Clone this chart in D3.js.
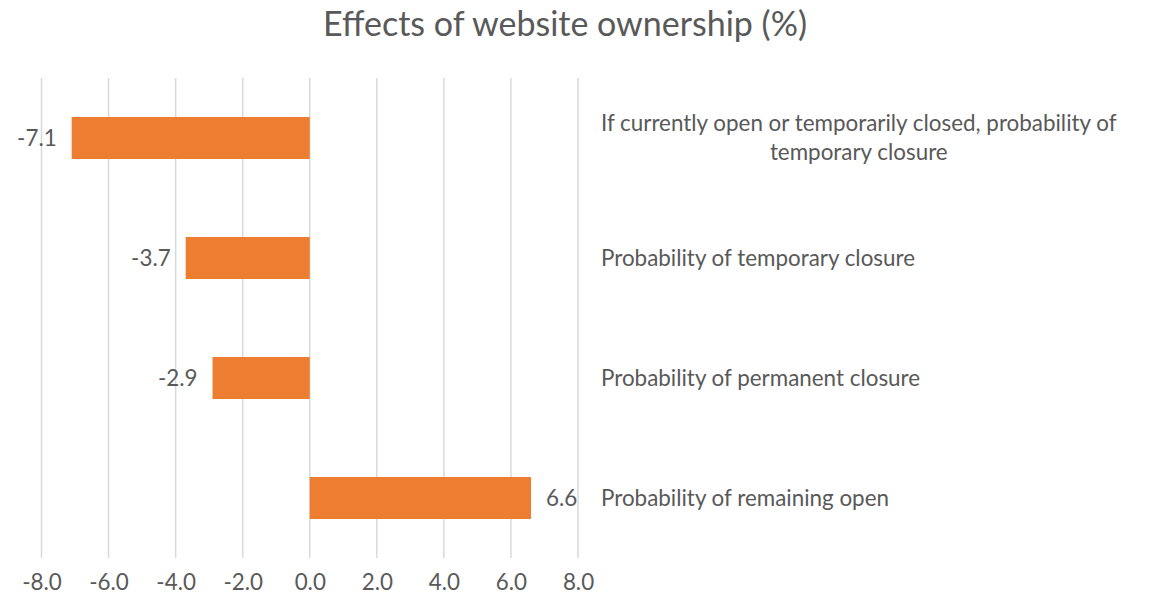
<!DOCTYPE html>
<html>
<head>
<meta charset="utf-8">
<script src="https://cdn.jsdelivr.net/npm/d3@7"></script>
<style>
  html, body { margin: 0; padding: 0; background: #fff; overflow: hidden; }
  svg { display: block; }
  text { font-family: Lato, "Open Sans", sans-serif; fill: #595959; }
</style>
</head>
<body>
<svg id="canvas"></svg>
<script>
const categories = [
    ["If currently open or temporarily closed, probability of", "temporary closure"],
    ["Probability of temporary closure"],
    ["Probability of permanent closure"],
    ["Probability of remaining open"]
];
const values = [-7.1, -3.7, -2.9, 6.6];
const tickValues = [-8, -6, -4, -2, 0, 2, 4, 6, 8];
const title = "Effects of website ownership (%)";

const width = 1150;
const height = 599;
const margin = {top: 78, right: 572, bottom: 41, left: 41.5};
const innerWidth = width - margin.left - margin.right;
const innerHeight = height - margin.top - margin.bottom;
const fontSize = 22.4;

const svg = d3.select("#canvas").attr("width", width).attr("height", height);
const mainGroup = svg.append("g").attr("transform", `translate(${margin.left}, ${margin.top})`);

const xScale = d3.scaleLinear().domain([-8, 8]).range([0, innerWidth]);
const yScale = d3.scaleBand().domain(d3.range(values.length)).range([0, innerHeight]).paddingInner(0.65).paddingOuter(0.325);

// gridlines
mainGroup.selectAll("line.grid")
    .data(tickValues)
    .join("line")
    .classed("grid", true)
    .attr("x1", d => xScale(d))
    .attr("x2", d => xScale(d))
    .attr("y1", 0)
    .attr("y2", innerHeight)
    .attr("stroke", "#d9d9d9")
    .attr("stroke-width", 1.5);

// tick labels
const xAxis = d3.axisBottom(xScale).tickValues(tickValues).tickFormat(d => d.toFixed(1)).tickSize(0).tickPadding(16);
mainGroup.append("g")
    .attr("transform", `translate(0, ${innerHeight})`)
    .call(xAxis)
    .call(g => g.select(".domain").remove())
    .call(g => g.selectAll("text")
        .style("font-family", "Lato, 'Open Sans', sans-serif")
        .style("font-size", fontSize + "px")
        .attr("fill", "#595959"));

// bars
mainGroup.selectAll("rect")
    .data(values)
    .join("rect")
    .attr("x", d => xScale(Math.min(0, d)))
    .attr("y", (d, i) => yScale(i))
    .attr("width", d => Math.abs(xScale(d) - xScale(0)))
    .attr("height", yScale.bandwidth())
    .attr("fill", "#ED7D31");

// data labels
mainGroup.selectAll("text.value")
    .data(values)
    .join("text")
    .classed("value", true)
    .attr("x", d => xScale(d) + (d < 0 ? -15 : 15))
    .attr("y", (d, i) => yScale(i) + yScale.bandwidth() / 2)
    .attr("dy", "0.35em")
    .attr("text-anchor", d => d < 0 ? "end" : "start")
    .style("font-size", fontSize + "px")
    .text(d => d.toFixed(1));

// category labels on the right
const labelX = 601;
const lineHeight = 29;
const labels = svg.append("g");
categories.forEach((lines, i) => {
    const cy = margin.top + yScale(i) + yScale.bandwidth() / 2;
    const t = labels.append("text")
        .style("font-size", fontSize + "px")
        .attr("y", cy - (lines.length - 1) * lineHeight / 2);
    const spans = t.selectAll("tspan")
        .data(lines)
        .join("tspan")
        .attr("x", labelX)
        .attr("dy", (d, j) => j === 0 ? "0.35em" : lineHeight)
        .text(d => d);
    if (lines.length > 1) {
        const w = d3.max(spans.nodes(), n => n.getComputedTextLength());
        t.attr("text-anchor", "middle");
        spans.attr("x", labelX + w / 2);
    }
});

// title
svg.append("text")
    .attr("x", 565)
    .attr("y", 24)
    .attr("dy", "0.35em")
    .attr("text-anchor", "middle")
    .style("font-size", "34px")
    .text(title);
</script>
</body>
</html>
